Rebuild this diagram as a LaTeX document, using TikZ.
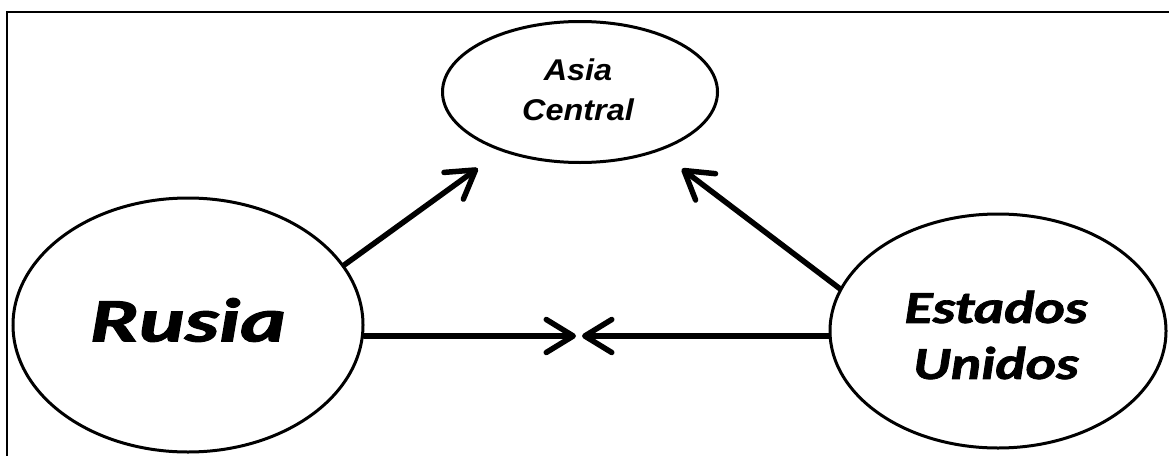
\documentclass[tikz,border=0pt]{standalone}
\usepackage{fontspec}
\usetikzlibrary{shapes.geometric,arrows.meta}
\newfontfamily\carlitobi{Carlito Bold Italic}[FakeBold=1.5]
\newfontfamily\arialbi{Liberation Sans Bold Italic}
\tikzset{
  x=1pt,y=-1pt,
  oval/.style={draw,ellipse,line width=3pt,inner sep=0pt},
  arr/.style={line width=5.5pt,line cap=round,-{Straight Barb[length=27pt,width=33pt,line cap=round,line join=round]}},
  bigtxt/.style={font=\carlitobi\fontsize{62}{62}\selectfont,inner sep=0pt},
  medtxt/.style={font=\carlitobi\fontsize{46}{56}\selectfont,align=center,inner sep=0pt},
  smalltxt/.style={font=\arialbi\fontsize{30}{40}\selectfont,align=center,inner sep=0pt},
}
\begin{document}
\begin{tikzpicture}
\useasboundingbox (0,0) rectangle (1169,455);
% frame
\draw[line width=2pt] (1175,12) -- (7,12) -- (7,470);
% ellipses
\node[oval,minimum width=275pt,minimum height=141pt] (asia) at (580,92) {};
\node[oval,minimum width=350pt,minimum height=254pt] (rus) at (188,325) {};
\node[oval,minimum width=336pt,minimum height=234pt] (us) at (998,331) {};
% labels
\node[smalltxt] (asiat) at (578,90) {\scalebox{1.08}[1]{Asia}\\\scalebox{1.08}[1]{Central}};
\node[bigtxt] (rust) at (188,320) {\scalebox{1.4}[1]{Rusia}};
\node[medtxt] (ust) at (996,335) {\scalebox{1.25}[1]{Estados}\\\scalebox{1.25}[1]{Unidos}};
% arrows
\coordinate (mid) at (579,336);
\draw[arr,shorten >=29pt] (rus.21) -- (asia.217);
\draw[arr,shorten >=29pt] (us.165.5) -- (asia.-37);
\draw[arr] (mid -| rus.east) -- ([xshift=-3pt]mid);
\draw[arr] (mid -| us.west) -- ([xshift=3pt]mid);
\end{tikzpicture}
\end{document}
